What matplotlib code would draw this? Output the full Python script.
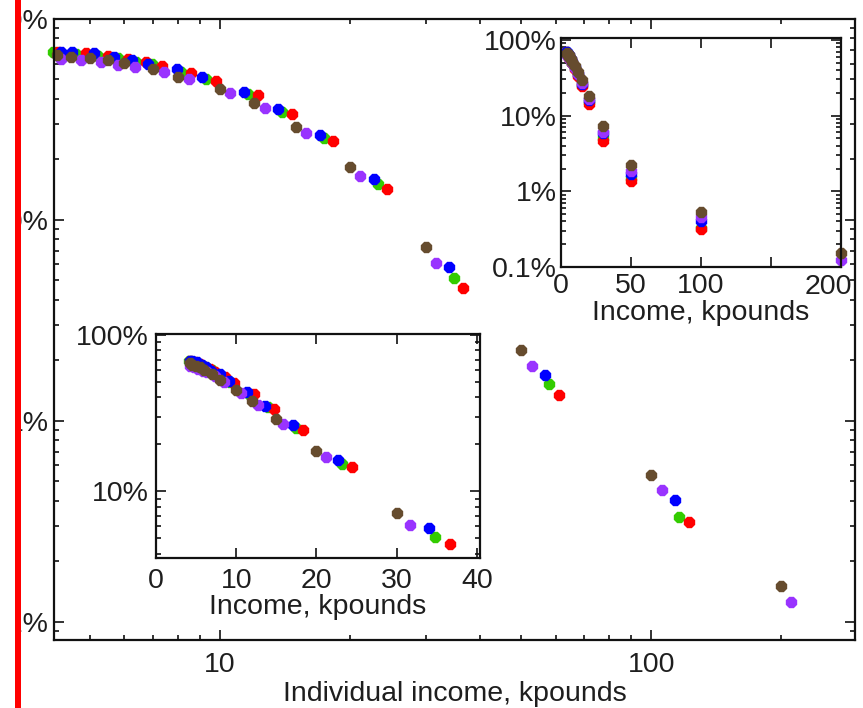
import matplotlib
matplotlib.use("Agg")
import matplotlib.pyplot as plt
from matplotlib.ticker import LogLocator, NullFormatter, FixedLocator, FixedFormatter, NullLocator
from matplotlib.patches import Rectangle

plt.rcParams["font.family"] = ["Liberation Sans", "DejaVu Sans"]
plt.rcParams["font.size"] = 20.5

# Cumulative share of taxpayers (%) above a given nominal income (kpounds),
# one survey year per colour, plus the factor that brings each year to a common money level.
red_income = [3.445, 4.0, 4.5, 5, 5.5, 6, 7, 8, 10, 12, 15, 20, 30, 50, 100]
red_share = [68.8, 67.5, 65.5, 63.0, 61.3, 58.3, 54.1, 49.2, 41.9, 33.7, 24.7, 14.3, 4.6, 1.35, 0.313]
red_scale = 1.222

green_income = [3.525, 4.0, 4.5, 5, 5.5, 6, 7, 8, 10, 12, 15, 20, 30, 50, 100]
green_share = [68.3, 67.2, 65.6, 63.7, 61.4, 59.6, 54.7, 50.1, 42.4, 34.6, 25.5, 15.1, 5.13, 1.52, 0.332]
green_scale = 1.16

blue_income = [3.765, 4.0, 4.5, 5, 5.5, 6, 7, 8, 10, 12, 15, 20, 30, 50, 100]
blue_share = [68.7, 68.2, 67.5, 64.9, 62.5, 59.5, 56.2, 51.3, 43.5, 35.5, 26.5, 15.9, 5.82, 1.69, 0.405]
blue_scale = 1.135

purple_income = [4.045, 4.5, 5, 5.5, 6, 7, 8, 10, 12, 15, 20, 30, 50, 100, 200]
purple_share = [63.5, 62.8, 61.3, 59.0, 57.9, 54.7, 50.1, 43.0, 35.9, 27.2, 16.6, 6.13, 1.88, 0.454, 0.125]
purple_scale = 1.057

brown_income = [4.195, 4.5, 5, 5.5, 6, 7, 8, 10, 12, 15, 20, 30, 50, 100, 200]
brown_share = [66.2, 64.4, 63.8, 62.5, 60.2, 56.2, 51.6, 44.7, 38.0, 29.1, 18.3, 7.3, 2.25, 0.534, 0.151]
brown_scale = 1.0

series = [
    (green_income, green_share, green_scale, "#33cc00"),
    (red_income, red_share, red_scale, "#ff0000"),
    (blue_income, blue_share, blue_scale, "#0000ff"),
    (purple_income, purple_share, purple_scale, "#9933ff"),
    (brown_income, brown_share, brown_scale, "#664c2e"),
]

main_xticks = [10, 100]
main_yticks = [0.1, 1, 10, 100]
main_ylabels = ["0.1%", "1%", "10%", "100%"]
lin_xticks = [0, 10, 20, 30, 40]
lin_yticks = [10, 100]
lin_ylabels = ["10%", "100%"]
full_xticks = [0, 50, 100, 150, 200]
full_xlabels = ["0", "50", "100", "", ""]

TXT = "#1e1e1e"
W, H = 863, 708
MS = 8


def box(x0, y0, x1, y1):
    return [x0 / W, 1 - y1 / H, (x1 - x0) / W, (y1 - y0) / H]


def frame(a):
    for s in a.spines.values():
        s.set_linewidth(1.6)
        s.set_color("#111111")
    a.tick_params(which="both", direction="in", top=True, right=True,
                  color="#111111", labelcolor=TXT, width=1.2)
    a.tick_params(which="major", length=7, pad=5)
    a.tick_params(which="minor", length=3.5)


def log_minor(axis):
    axis.set_minor_locator(LogLocator(base=10, subs=range(2, 10), numticks=20))
    axis.set_minor_formatter(NullFormatter())


fig = plt.figure(figsize=(W / 100, H / 100), dpi=100)

# Main log-log panel (incomes brought to a common money level)
ax = fig.add_axes(box(54, 19, 855, 640))
ax.set_xscale("log")
ax.set_yscale("log")
for inc, share, k, col in series:
    ax.plot([v * k for v in inc], share, ls="none", marker="8", ms=MS,
            mfc=col, mec=col, clip_on=False)
ax.set_xlim(4.12, 297)
ax.set_ylim(0.081, 100)
ax.xaxis.set_major_locator(FixedLocator(main_xticks))
ax.xaxis.set_major_formatter(FixedFormatter([str(t) for t in main_xticks]))
log_minor(ax.xaxis)
ax.yaxis.set_major_locator(FixedLocator(main_yticks))
ax.yaxis.set_major_formatter(FixedFormatter(main_ylabels))
log_minor(ax.yaxis)
frame(ax)
ax.tick_params(axis="x", which="major", pad=9)
ax.tick_params(axis="y", which="major", pad=4)
ax.set_xlabel("Individual income, kpounds", color=TXT, labelpad=2)

# Inset: same data on a linear income axis
ax2 = fig.add_axes(box(156, 334, 480, 558))
ax2.set_facecolor("white")
ax2.set_yscale("log")
for inc, share, k, col in series:
    ax2.plot([v * k for v in inc], share, ls="none", marker="8", ms=MS,
             mfc=col, mec=col, clip_on=True)
ax2.set_xlim(0, 40.4)
ax2.set_ylim(3.75, 102)
ax2.xaxis.set_major_locator(FixedLocator(lin_xticks))
ax2.xaxis.set_major_formatter(FixedFormatter([str(t) for t in lin_xticks]))
ax2.xaxis.set_minor_locator(NullLocator())
ax2.yaxis.set_major_locator(FixedLocator(lin_yticks))
ax2.yaxis.set_major_formatter(FixedFormatter(lin_ylabels))
log_minor(ax2.yaxis)
frame(ax2)
ax2.tick_params(axis="x", which="major", pad=7)
ax2.set_xlabel("Income, kpounds", color=TXT, labelpad=0)

# Inset: nominal incomes over the full range
ax3 = fig.add_axes(box(561, 38, 841, 267))
ax3.set_facecolor("white")
ax3.set_yscale("log")
for inc, share, k, col in series:
    ax3.plot(inc, share, ls="none", marker="8", ms=MS,
             mfc=col, mec=col, clip_on=False)
ax3.set_xlim(0, 200)
ax3.set_ylim(0.1, 106)
ax3.xaxis.set_major_locator(FixedLocator(full_xticks))
ax3.xaxis.set_major_formatter(FixedFormatter(full_xlabels))
ax3.xaxis.set_minor_locator(NullLocator())
ax3.yaxis.set_major_locator(FixedLocator(main_yticks))
ax3.yaxis.set_major_formatter(FixedFormatter(main_ylabels))
log_minor(ax3.yaxis)
frame(ax3)
ax3.tick_params(axis="x", which="major", pad=4)
ax3.tick_params(axis="y", which="major", pad=3)
ax3.text(0.955, -0.03, "200", transform=ax3.transAxes, ha="center", va="top",
         color=TXT, fontsize=20.5)
ax3.set_xlabel("Income, kpounds", color=TXT, labelpad=1)

# Left margin strip with the red rule
fig.add_artist(Rectangle((0, 0), 15 / W, 1, transform=fig.transFigure,
                         facecolor="white", edgecolor="none", zorder=20))
fig.add_artist(Rectangle((15 / W, 0), 5.7 / W, 1, transform=fig.transFigure,
                         facecolor="#ff0000", edgecolor="none", zorder=21))

fig.savefig("out.png", dpi=100)
